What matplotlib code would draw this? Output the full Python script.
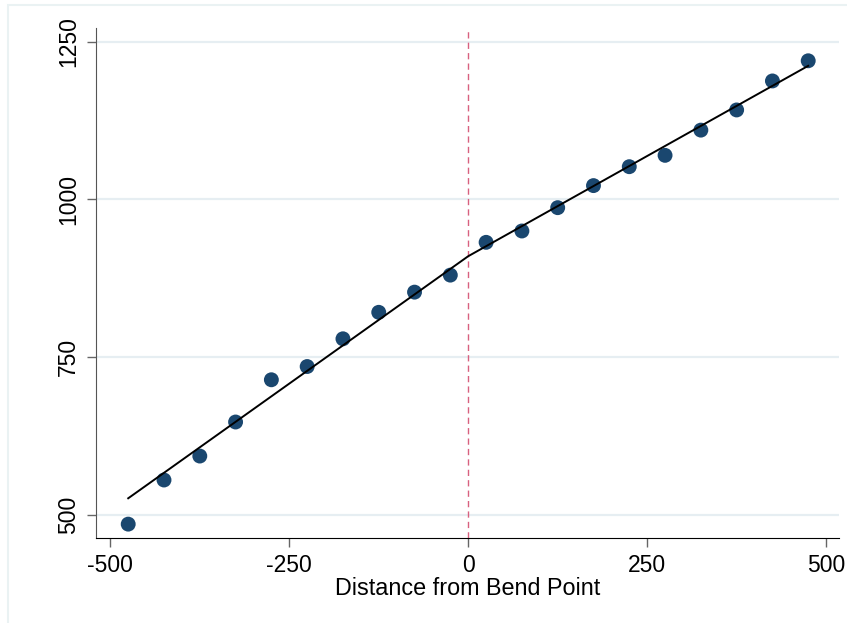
import matplotlib
matplotlib.use("Agg")
import matplotlib.pyplot as plt
from matplotlib.patches import Rectangle

plt.rcParams["font.family"] = ["Liberation Sans", "DejaVu Sans"]
plt.rcParams["axes.unicode_minus"] = False

# binned means by distance from bend point
bin_x = [-475, -425, -375, -325, -275, -225, -175, -125, -75, -25,
         25, 75, 125, 175, 225, 275, 325, 375, 425, 475]
bin_y = [485, 555, 593, 647, 714, 735, 779, 821, 853, 880,
         932, 950, 987, 1022, 1052, 1070, 1110, 1142, 1188, 1220]

# piecewise linear fit
fit_x = [-475, 0, 475]
fit_y = [526, 910, 1212]

bend = 0
x_ticks = [-500, -250, 0, 250, 500]
y_ticks = [500, 750, 1000, 1250]

fig = plt.figure(figsize=(8.47, 6.23), dpi=100)
fig.patches.append(Rectangle((8 / 847, -0.1), 1.2, 1 - 5 / 623 + 0.1,
                             transform=fig.transFigure, fill=False,
                             edgecolor="#eaf2f3", lw=1.5, zorder=0))
ax = fig.add_axes([96 / 847, 1 - 538 / 623, (839 - 96) / 847, (538 - 28) / 623])

for yt in y_ticks:
    ax.axhline(yt, color="#e6eef2", lw=1.6, zorder=0)

ax.axvline(bend, color="#d8607f", lw=1.0, dashes=(4.5, 3), zorder=1)
ax.scatter(bin_x, bin_y, s=115, color="#1a476f", edgecolors="none", zorder=2)
ax.plot(fit_x, fit_y, color="black", lw=1.4, zorder=3)

ax.set_xlim(-520, 518)
ax.set_ylim(463, 1272)
ax.set_xticks(x_ticks)
ax.set_yticks(y_ticks)
ax.set_yticklabels([str(v) for v in y_ticks], rotation=90, va="center")
ax.tick_params(axis="both", labelsize=16.5, length=6.5, width=1,
               color="#666666", pad=5)

for side in ("top", "right"):
    ax.spines[side].set_visible(False)
ax.spines["left"].set_color("#555555")
ax.spines["bottom"].set_color("black")

ax.set_xlabel("Distance from Bend Point", fontsize=16.8, labelpad=0)

fig.savefig("out.png", dpi=100)
